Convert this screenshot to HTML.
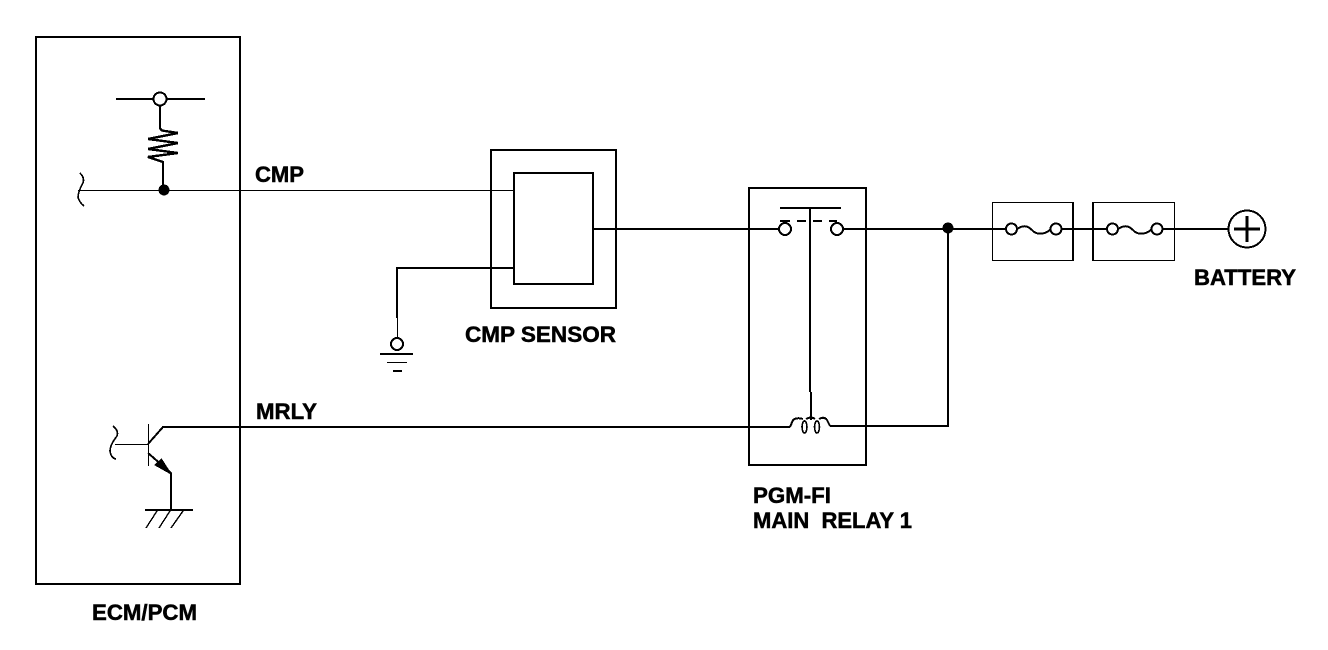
<!DOCTYPE html>
<html><head><meta charset="utf-8"><style>
html,body{margin:0;padding:0;background:#fff}
svg{display:block}
text{font-family:"Liberation Sans",sans-serif;font-weight:bold;font-size:22px;fill:#000;stroke:#000;stroke-width:.5px}
</style></head><body>
<svg width="1328" height="650" viewBox="0 0 1328 650" xmlns="http://www.w3.org/2000/svg" fill="none" stroke="#000" stroke-width="2" shape-rendering="crispEdges">
<!-- boxes -->
<rect x="36" y="37" width="204" height="547"/>
<rect x="491" y="150" width="125" height="158"/>
<rect x="514" y="173" width="79" height="111"/>
<rect x="749" y="188" width="117" height="277"/>
<rect x="992.5" y="202.5" width="81" height="58" stroke-width="1"/>
<rect x="1093.5" y="202.5" width="81" height="58" stroke-width="1"/>
<path d="M1073 202V261M1093 202V261" stroke-width="2"/>
<!-- wires -->
<path d="M78 190.5H514" stroke-width="1"/>
<path d="M162 427H790" stroke-width="2"/>
<path d="M593 229H779M843 229H1007M1061 229H1108M1162 229H1229" stroke-width="2"/>
<path d="M514 268H397V318" stroke-width="2"/>
<path d="M397.5 318V339" stroke-width="1"/>
<path d="M830 426H948V229" stroke-width="2"/>
<path d="M810 208V392M811 392V420" stroke-width="2"/>
<path d="M780 208H841" stroke-width="2"/>
<path d="M780 221H790M797 221H806M813 221H822M829 221H837" stroke-width="2"/>
<!-- pull-up -->
<path d="M116 99H205" stroke-width="2"/>
<path d="M160 106V128" stroke-width="2"/>
<circle cx="160" cy="99" r="6.5" fill="#fff" stroke-width="2"/>
<path d="M160 128Q161 131 165 131L178 133L148 139L178 143L148 149L178 153L148 157L163 162V190" stroke-width="2.4"/>
<circle cx="164" cy="190" r="5.500" fill="#000" stroke="none"/>
<path d="M80 173Q85 178 83 183Q78 192 78 197Q79 202 84 206" stroke-width="1.600"/>
<!-- transistor -->
<path d="M148.500 424V466" stroke-width="1"/>
<path d="M148 444.500H115" stroke-width="1"/>
<path d="M148 444L163 427" stroke-width="2"/>
<path d="M148 453L171 473V510" stroke-width="2"/>
<path d="M171 474L155 465L161.500 459Z" fill="#000" stroke="#000" stroke-width="1"/>
<path d="M145 510H193" stroke-width="2"/>
<path d="M157 511L146 528M170 511L159 528M183 511L171 528" stroke-width="1.4"/>
<path d="M113 426Q119 431 117 436Q110 445 110 451Q111 458 116 459" stroke-width="1.600"/>
<!-- relay contacts -->
<circle cx="785" cy="229" r="6" fill="#fff" stroke-width="2"/>
<circle cx="837" cy="229" r="6" fill="#fff" stroke-width="2"/>
<circle cx="948" cy="228" r="5.500" fill="#000" stroke="none"/>
<!-- coil -->
<path d="M790 427L793 420Q797 417 803 419M806 419Q811 416 815 419M819 419Q824 416 827 420L830 426" stroke-width="2"/>
<ellipse cx="804.500" cy="427" rx="2.500" ry="6" stroke-width="1.600"/>
<ellipse cx="817" cy="427" rx="2.500" ry="6" stroke-width="1.600"/>
<!-- fuses -->
<circle cx="1011.500" cy="229" r="5.500" fill="#fff" stroke-width="2"/>
<circle cx="1056" cy="229" r="5.500" fill="#fff" stroke-width="2"/>
<path d="M1017 229C1026 223 1030 228 1034 232C1039 235 1046 234 1051 229" stroke-width="2"/>
<circle cx="1112.500" cy="229" r="5.500" fill="#fff" stroke-width="2"/>
<circle cx="1157" cy="229" r="5.500" fill="#fff" stroke-width="2"/>
<path d="M1118 229C1127 223 1131 228 1135 232C1140 235 1147 234 1152 229" stroke-width="2"/>
<!-- battery -->
<circle cx="1247" cy="229" r="18.500" fill="#fff" stroke-width="2"/>
<path d="M1234 229H1260M1247 216V242" stroke-width="3"/>
<!-- ground -->
<circle cx="397" cy="344" r="6" stroke-width="2"/>
<path d="M380 354H413" stroke-width="2"/>
<path d="M387 362.500H407" stroke-width="1"/>
<path d="M393 371H402" stroke-width="2"/>
<!-- labels -->
<g shape-rendering="auto">
<text x="255" y="182" textLength="49" lengthAdjust="spacingAndGlyphs">CMP</text>
<text x="256" y="419" textLength="61" lengthAdjust="spacingAndGlyphs">MRLY</text>
<text x="465" y="342" textLength="151" lengthAdjust="spacingAndGlyphs">CMP SENSOR</text>
<text x="1194" y="285" textLength="102" lengthAdjust="spacingAndGlyphs">BATTERY</text>
<text x="753" y="503" textLength="78" lengthAdjust="spacingAndGlyphs">PGM-FI</text>
<text x="753" y="528" xml:space="preserve" textLength="159" lengthAdjust="spacingAndGlyphs">MAIN  RELAY 1</text>
<text x="92" y="620" textLength="105" lengthAdjust="spacingAndGlyphs">ECM/PCM</text>
</g>
</svg>
</body></html>
